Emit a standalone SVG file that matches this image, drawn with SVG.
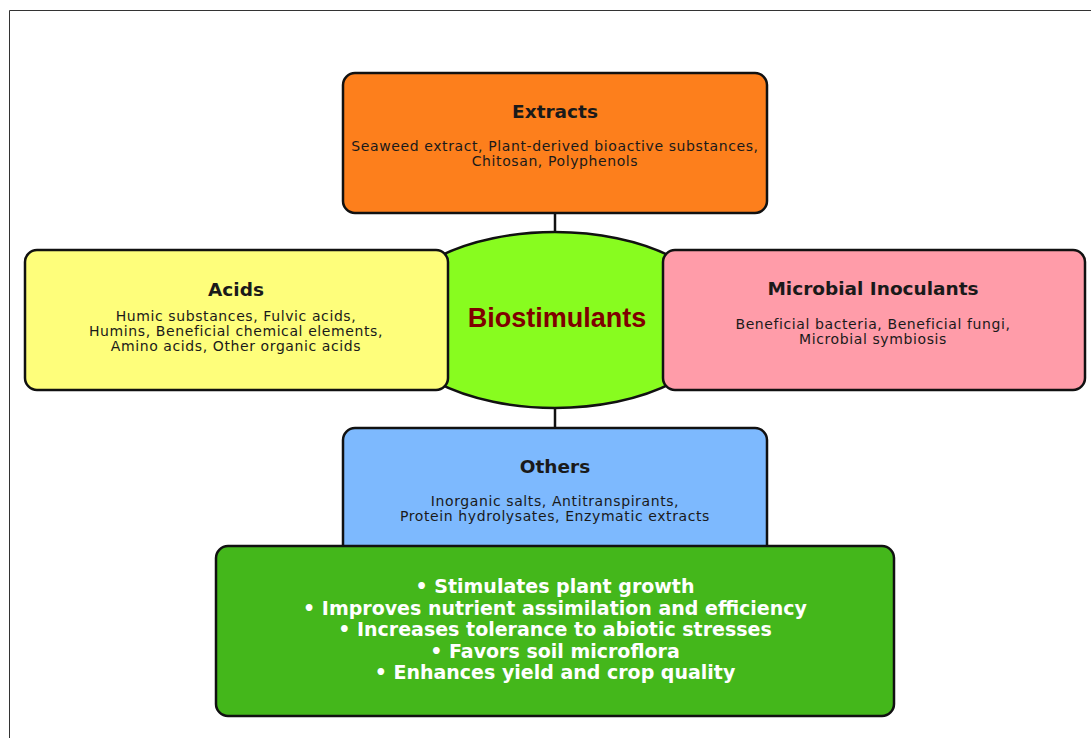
<svg xmlns="http://www.w3.org/2000/svg" width="1091" height="738" viewBox="0 0 1091 738">
<defs>
<style>
.box{stroke:#111;stroke-width:2.5}
.title{font-family:"DejaVu Sans",sans-serif;font-weight:bold;font-size:18.5px;fill:#1a1a1a;text-anchor:middle}
.body{font-family:"DejaVu Sans",sans-serif;font-size:14px;letter-spacing:0.6px;fill:#1a1a1a;text-anchor:middle}
.bul{font-family:"DejaVu Sans",sans-serif;font-weight:bold;font-size:19px;fill:#ffffff;text-anchor:middle}
.conn{stroke:#111;stroke-width:2.5;fill:none}
.faint{stroke:#e8e8e8;stroke-width:1.5;stroke-dasharray:4 4;fill:none;opacity:0.8}
</style>
<marker id="tip" markerWidth="6" markerHeight="6" refX="5" refY="3" orient="auto" markerUnits="userSpaceOnUse">
<path d="M0,0 L5,3 L0,6 z" fill="#222"/>
</marker>
</defs>
<rect width="1091" height="738" fill="#ffffff"/>
<path d="M9.5,738 V10.5 H1091" fill="none" stroke="#333" stroke-width="1"/>

<g id="connectors">
<line class="conn" x1="555" y1="213" x2="555" y2="236"/>
<line class="conn" x1="555" y1="405" x2="555" y2="430"/>
<line class="faint" x1="378" y1="313" x2="446" y2="313" marker-end="url(#tip)"/>
<line class="faint" x1="665" y1="318" x2="740" y2="322" marker-end="url(#tip)"/>
</g>

<g id="center">
<ellipse cx="555" cy="320" rx="168" ry="88" fill="#88FC1F" class="box"/>
<text x="557" y="327" font-family="'Liberation Sans',Arial,sans-serif" font-weight="bold" font-size="27" fill="#7F0000" text-anchor="middle">Biostimulants</text>
</g>

<g id="extracts">
<rect x="343" y="73" width="424" height="140" rx="12" fill="#FD7F1C" class="box"/>
<text class="title" x="555" y="118">Extracts</text>
<text class="body" x="555" y="151">Seaweed extract, Plant-derived bioactive substances,</text>
<text class="body" x="555" y="166">Chitosan, Polyphenols</text>
</g>

<g id="acids">
<rect x="25" y="250" width="423" height="140" rx="12" fill="#FEFE7B" class="box"/>
<text class="title" x="236" y="296">Acids</text>
<text class="body" x="236" y="321">Humic substances, Fulvic acids,</text>
<text class="body" x="236" y="336">Humins, Beneficial chemical elements,</text>
<text class="body" x="236" y="351">Amino acids, Other organic acids</text>
</g>

<g id="microbial">
<rect x="663" y="250" width="422" height="140" rx="12" fill="#FF9CA9" class="box"/>
<text class="title" x="873" y="295">Microbial Inoculants</text>
<text class="body" x="873" y="329">Beneficial bacteria, Beneficial fungi,</text>
<text class="body" x="873" y="344">Microbial symbiosis</text>
</g>

<g id="others">
<rect x="343" y="428" width="424" height="140" rx="12" fill="#7DB9FE" class="box"/>
<text class="title" x="555" y="473">Others</text>
<text class="body" x="555" y="506">Inorganic salts, Antitranspirants,</text>
<text class="body" x="555" y="521">Protein hydrolysates, Enzymatic extracts</text>
</g>

<g id="benefits">
<rect x="216" y="546" width="678" height="170" rx="12" fill="#44B71B" class="box"/>
<text class="bul" x="555" y="593">• Stimulates plant growth</text>
<text class="bul" x="555" y="614.5">• Improves nutrient assimilation and efficiency</text>
<text class="bul" x="555" y="636">• Increases tolerance to abiotic stresses</text>
<text class="bul" x="555" y="657.5">• Favors soil microflora</text>
<text class="bul" x="555" y="679">• Enhances yield and crop quality</text>
</g>
</svg>
